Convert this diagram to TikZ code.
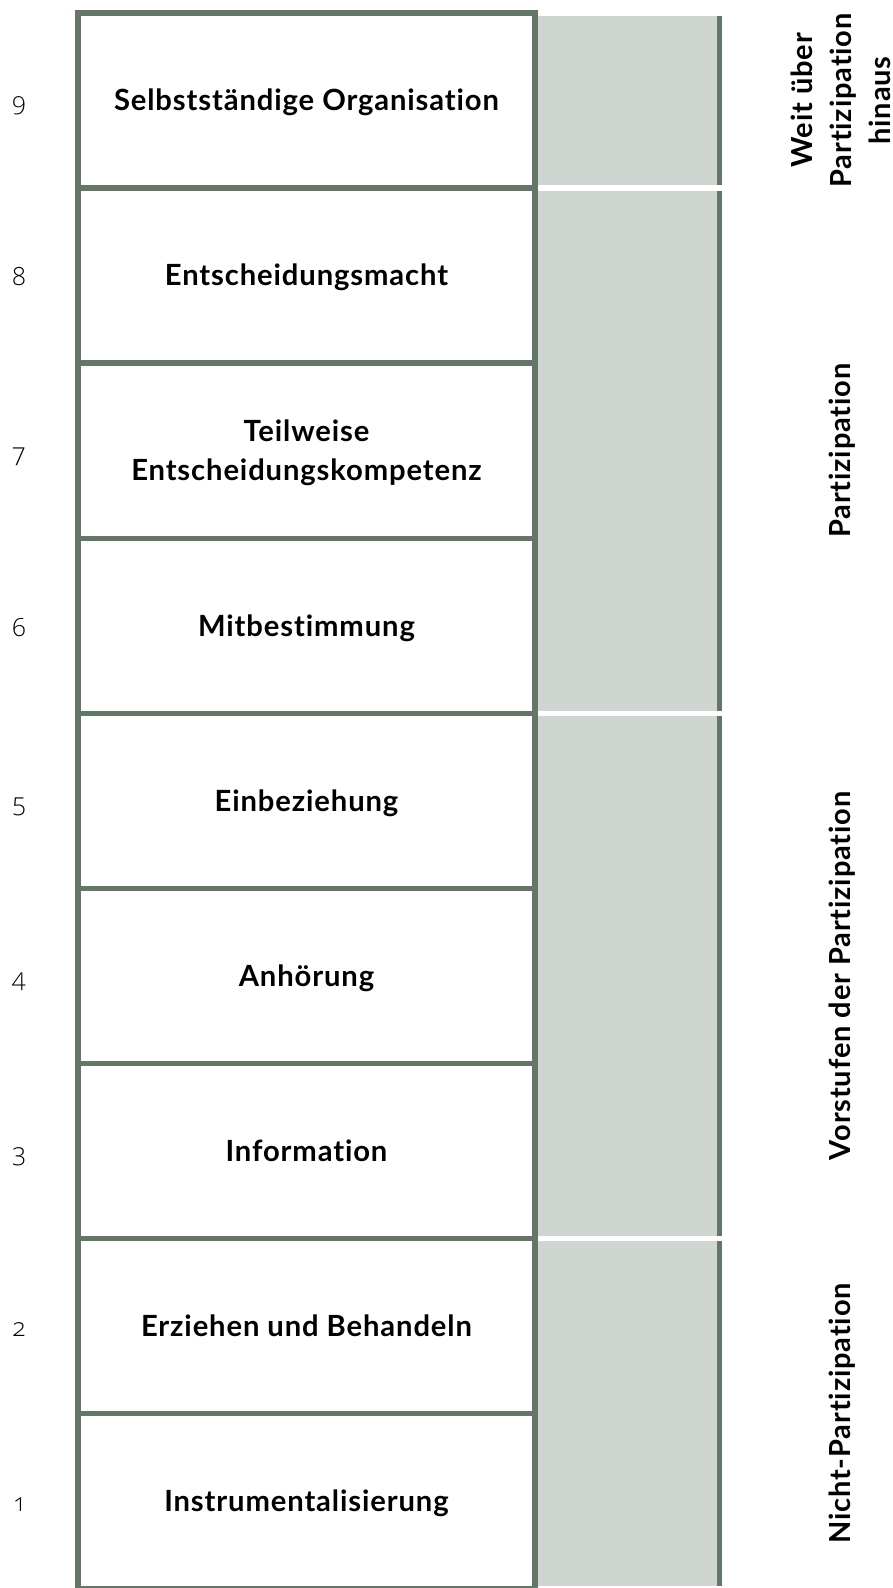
\documentclass[tikz,border=0pt]{standalone}
\usepackage{fontspec}
\setmainfont{Lato}[LetterSpace=3,Ligatures=NoCommon]
\IfFontExistsTF{Open Sans Light}
  {\newfontfamily\numfont{Open Sans Light}[Numbers=OldStyle]}
  {\newfontfamily\numfont{Fira Sans}[UprightFont={* Light},Numbers=OldStyle]}
\definecolor{frame}{HTML}{647666}
\definecolor{band}{HTML}{CFD5D1}

\begin{document}
\begin{tikzpicture}[x=1pt,y=-1pt,
  rungbox/.style={draw=frame,line width=5.2pt,rectangle,minimum width=457pt,
    minimum height=175.08pt,inner sep=0pt,outer sep=0pt,align=center,
    font=\bfseries\fontsize{29.2}{38.5}\selectfont,text height=20.9pt,text depth=0pt},
  num/.style={font=\numfont\fontsize{25}{30}\selectfont,inner sep=0pt,anchor=base},
  grp/.style={font=\bfseries\fontsize{29}{39}\selectfont,inner sep=0pt,rotate=90,align=center},
  bandfill/.style={fill=band},
  bandedge/.style={draw=frame,line width=5.2pt},
]
\useasboundingbox (0,0) rectangle (893,1588);
\def\ytop{12.9}
\def\rh{175.08}

% shaded column, one band per group of rungs, with a dark right edge
\foreach \a/\b in {0/1,1/4,4/7,7/9}{
  \pgfmathsetmacro\ya{\ytop+\a*\rh+2.6}
  \pgfmathsetmacro\yb{\ytop+\b*\rh-2.6}
  \fill[bandfill] (537.6,\ya) rectangle (717,\yb);
  \draw[bandedge] (719.6,\ya) -- (719.6,\yb);
}

% the nine rungs of the ladder
\foreach \n/\txt in {9/Selbstständige Organisation,8/Entscheidungsmacht,
  6/Mitbestimmung,5/Einbeziehung,4/Anhörung,3/Information,
  2/Erziehen und Behandeln,1/Instrumentalisierung}{
  \pgfmathsetmacro\yc{\ytop+(9.5-\n)*\rh}
  \node[rungbox] (r\n) at (306.5,\yc) {\txt};
}
\pgfmathsetmacro\yc{\ytop+2.5*\rh}
\node[rungbox,text height=59.4pt] (r7) at (306.5,\yc) {Teilweise\\Entscheidungskompetenz};

% level numbers
\foreach \n in {1,...,9}{
  \pgfmathsetmacro\yc{\ytop+(9.5-\n)*\rh+10.4}
  \node[num] (n\n) at (19,\yc) {\n};
}

% group captions
\node[grp,anchor=base] (g1) at (890,100.4) {Weit über\\Partizipation\\hinaus};
\node[grp,anchor=base] (g2) at (850,450.6) {Partizipation};
\node[grp,anchor=base] (g3) at (850,975.8) {Vorstufen der Partizipation};
\node[grp,anchor=base] (g4) at (850,1413.5) {Nicht-Partizipation};
\end{tikzpicture}
\end{document}
